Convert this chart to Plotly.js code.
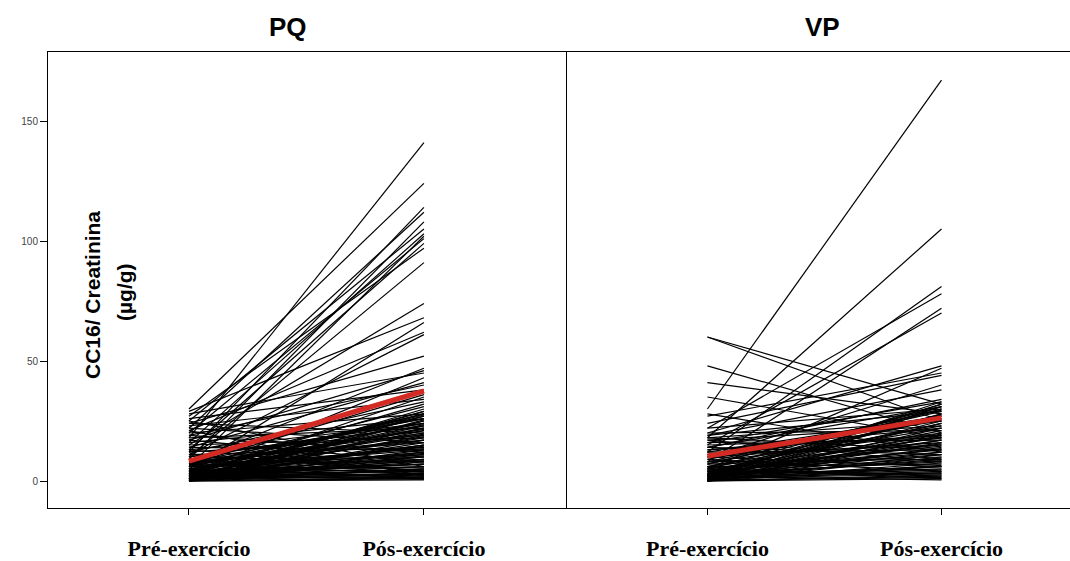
<!DOCTYPE html>
<html>
<head>
<meta charset="utf-8">
<script src="https://cdn.plot.ly/plotly-3.0.1.min.js"></script>
<style>html,body{margin:0;padding:0;background:#fff;}#chart{width:1070px;height:561px;}</style>
</head>
<body>
<div id="chart"></div>
<script>
// Categories (x tick labels)
const categories = ["Pré-exercício", "Pós-exercício"];
const panelTitles = ["PQ", "VP"];
const yTitle = "CC16/ Creatinina";
const yUnit = "(µg/g)";
const yTicks = [0, 50, 100, 150];

// PQ group: pre / post values per subject
const pqPre = [18,30,12,22,9,25,16,6,20,13,27,10,
  15,29,5,21,11,24,8,17,28,3,14,19,26,7,2,23,12,4,
  1,3,5,0,8,2,6,10,4,1,7,12,3,0,9,2,5,14,1,6,3,0,8,2,4,1,11,0,5,2,
  20,16,13,18,24,15,22,11,19,9,17,25,13,7,21,
  0,1,2,3,0,4,1,6,2,0,3,5,1,7,2,0,4,1,6,
  0,1,2,3,0.5,4,1.5,5,2.5,0.8,3.5,6,1,8,2,4.5,0.3,10,7,3,
  0.2,1.2,2.2,0.6,3.2,1.8,0.4,2.8,5.2,1.4,0.9,3.8,6.5,2.4,0.1,4.2];
const pqPost = [141,124,114,112,108,105,103,102,101,99,97,91,
  74,68,66,62,61,52,47,46,45,43,41,40,38,36,35,34,33,32,
  30,29,28,27,26,25,24,23,22,21,20,19,18,17,16,15,14,13,12,11,10,9,8,7,6,5,4,3,2,1,
  28,26,24,22,20,18,16,14,12,10,8,6,4,3,2,
  1,2,3,4,5,7,8,9,11,13,15,17,19,21,23,25,27,29,31,
  0.5,1.5,0.8,2.5,3.5,4.5,6,5.5,9,10.5,12,13.5,15,17,18.5,20,22,24,26,28,
  1.2,2.8,4,5,7,8.5,10,11.5,13,14.5,16,19.5,21.5,23.5,25.5,27.5];

// VP group: pre / post values per subject
const vpPre = [30,18,12,22,8,15,20,5,27,10,
  60,60,48,41,35,28,
  24,19,14,22,
  1,3,5,2,7,0,9,4,11,1,6,13,2,8,0,15,3,10,5,1,12,4,0,7,2,17,6,0,3,9,1,5,0,2,
  16,14,19,12,18,17,20,13,16,11,18,14,8,10,4,6,
  0,1,2,3,0,4,1,5,2,0,3,6,1,7,2,
  0.5,1.5,2.5,0.2,3.5,1,4.5,0.7,2,5.5,1.2,3,8,0.3,
  0.1,1.8,0.6,2.7,4.1,1.3,3.3,0.9];
const vpPost = [167,105,81,78,72,70,48,47,45,40,
  32,25,20,28,18,12,
  44,38,34,30,
  33,32,31,30,29,28,27,26,25,24,23,22,21,20,19,18,17,16,15,14,13,12,11,10,9,8,7,6,5,4,3,2,1,0.5,
  33,31,29,27,25,23,21,19,17,15,13,11,9,6,3,1,
  2,4,6,8,10,13,16,18,20,22,24,26,28,30,32,
  1.5,3.5,5,7.5,9.5,12,14.5,17,19.5,22,25,27.5,29.5,31,
  2.5,4.5,6.5,8.5,11,13.5,15.5,18.5];

// Group mean lines (red)
const pqMean = [8.3, 37.5];
const vpMean = [10.4, 26.3];

function segments(pre, post) {
  const xs = [], ys = [];
  for (let i = 0; i < pre.length; i++) {
    xs.push(categories[0], categories[1], null);
    ys.push(pre[i], post[i], null);
  }
  return {x: xs, y: ys};
}

const pqSeg = segments(pqPre, pqPost);
const vpSeg = segments(vpPre, vpPost);

const traces = [
  {type: 'scatter', mode: 'lines', x: pqSeg.x, y: pqSeg.y, xaxis: 'x', yaxis: 'y',
   line: {color: '#000', width: 1.2}, connectgaps: false, hoverinfo: 'skip', showlegend: false},
  {type: 'scatter', mode: 'lines', x: vpSeg.x, y: vpSeg.y, xaxis: 'x2', yaxis: 'y2',
   line: {color: '#000', width: 1.2}, connectgaps: false, hoverinfo: 'skip', showlegend: false},
  {type: 'scatter', mode: 'lines', x: categories, y: pqMean, xaxis: 'x', yaxis: 'y',
   line: {color: '#d42a24', width: 5}, showlegend: false},
  {type: 'scatter', mode: 'lines', x: categories, y: vpMean, xaxis: 'x2', yaxis: 'y2',
   line: {color: '#d42a24', width: 5}, showlegend: false}
];

const xCommon = {
  type: 'category', categoryorder: 'array', categoryarray: categories,
  showline: true, linecolor: '#000', linewidth: 1, mirror: true,
  ticks: 'outside', ticklen: 6, tickcolor: '#000', tickwidth: 1,
  showgrid: false, zeroline: false,
  ticklabelstandoff: 15,
  tickfont: {family: 'Liberation Serif', size: 22, color: '#000', weight: 'bold'}
};
const split = 519 / 1022;

const layout = {
  width: 1070, height: 561,
  margin: {l: 48, r: 0, t: 52, b: 53},
  paper_bgcolor: '#fff', plot_bgcolor: '#fff',
  showlegend: false,
  xaxis: Object.assign({}, xCommon, {domain: [0, split], range: [-0.6, 1.609], anchor: 'y'}),
  xaxis2: Object.assign({}, xCommon, {domain: [split, 1], range: [-0.6, 1.549], anchor: 'y2'}),
  yaxis: {
    domain: [0, 1], range: [-11.25, 178.75], anchor: 'x',
    showline: true, linecolor: '#000', linewidth: 1,
    ticks: 'outside', ticklen: 7, tickcolor: '#000',
    tickvals: yTicks, ticktext: yTicks.map(String),
    tickfont: {family: 'Liberation Sans', size: 10, color: '#444'},
    showgrid: false, zeroline: false
  },
  yaxis2: {
    domain: [0, 1], range: [-11.25, 178.75], anchor: 'x2', matches: 'y',
    showline: true, linecolor: '#000', linewidth: 1,
    ticks: '', showticklabels: false, showgrid: false, zeroline: false
  },
  annotations: [
    {text: panelTitles[0], xref: 'paper', yref: 'paper', x: (288 - 48) / 1022, y: 1 + 25 / 456,
     xanchor: 'center', yanchor: 'middle', showarrow: false,
     font: {family: 'Liberation Sans', size: 26, color: '#000', weight: 'bold'}},
    {text: panelTitles[1], xref: 'paper', yref: 'paper', x: (822 - 48) / 1022, y: 1 + 25 / 456,
     xanchor: 'center', yanchor: 'middle', showarrow: false,
     font: {family: 'Liberation Sans', size: 26, color: '#000', weight: 'bold'}},
    {text: yTitle, xref: 'paper', yref: 'paper', x: (92 - 48) / 1022, y: (508 - 295) / 456,
     xanchor: 'center', yanchor: 'middle', textangle: -90, showarrow: false,
     font: {family: 'Liberation Sans', size: 21, color: '#000', weight: 'bold'}},
    {text: yUnit, xref: 'paper', yref: 'paper', x: (124 - 48) / 1022, y: (508 - 292) / 456,
     xanchor: 'center', yanchor: 'middle', textangle: -90, showarrow: false,
     font: {family: 'Liberation Sans', size: 21, color: '#000', weight: 'bold'}}
  ]
};

Plotly.newPlot('chart', traces, layout, {displayModeBar: false, staticPlot: true});
</script>
</body>
</html>
